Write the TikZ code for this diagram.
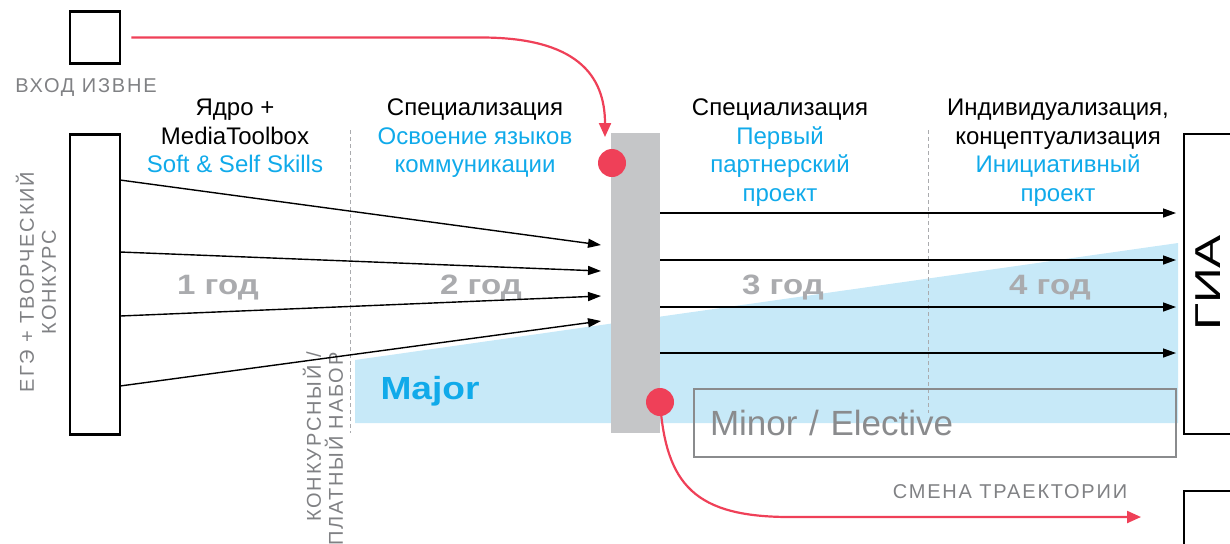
\documentclass[tikz,border=0pt]{standalone}
\usepackage{fontspec}
\setmainfont{Liberation Sans}
\newfontfamily\spacedfont{Liberation Sans}[LetterSpace=9]
\usetikzlibrary{positioning}
\usetikzlibrary{arrows.meta}

\definecolor{accentblue}{RGB}{16,170,234}
\definecolor{majorfill}{RGB}{199,233,248}
\definecolor{bargray}{RGB}{197,198,200}
\definecolor{accentred}{RGB}{239,64,88}
\definecolor{notegray}{RGB}{128,129,132}
\definecolor{yeargray}{RGB}{170,171,174}
\definecolor{minorgray}{RGB}{138,139,141}

\newcommand{\stretchx}[2]{\scalebox{#1}[1]{#2}}

\begin{document}
\begin{tikzpicture}[x=0.5pt, y=-0.5pt,
    box/.style = {draw, line width=1.3pt, inner sep=0pt},
    bar/.style = {fill=bargray, inner sep=0pt},
    dot/.style = {circle, fill=accentred, inner sep=0pt, minimum size=14pt},
    head/.style = {align=center, anchor=north, inner sep=0pt, font=\fontsize{12}{14.3}\selectfont},
    year/.style = {anchor=base, inner sep=0pt, text=yeargray, font=\fontsize{14}{16}\selectfont\bfseries},
    note/.style = {inner sep=0pt, text=notegray, font=\spacedfont\fontsize{10}{11}\selectfont},
    minorbox/.style = {draw=minorgray, line width=1pt, text=minorgray, minimum width=241pt, minimum height=34pt,
        text width=225pt, inner xsep=8pt, inner ysep=0pt, align=left, font=\fontsize{17.5}{20}\selectfont},
    divider/.style = {draw=yeargray, line width=0.5pt, dash pattern=on 2pt off 1.5pt},
    arr/.style = {line width=0.7pt, -{Triangle[length=6.5pt,width=4.5pt]}},
    redarr/.style = {draw=accentred, line width=1.1pt, -{Triangle[length=7pt,width=6pt]}}]
    \useasboundingbox (0,0) rectangle (1230,543);
    \clip (0,0) rectangle (1230,543);

    % major track and year borders
    \fill[majorfill] (355,360) -- (1178,243) -- (1178,423) -- (355,423) -- cycle;
    \draw[divider] (350,130) -- (350,433);
    \draw[divider] (928,130) -- (928,413);

    % boxes
    \node[box, minimum width=25pt, minimum height=26pt] (inbox) at (95,37.5) {};
    \node[box, minimum width=25pt, minimum height=150pt] (ege) at (95,284.5) {};
    \node[bar, minimum width=24.5pt, minimum height=150pt] (hub) at (635.5,283) {};
    \node[box, minimum width=35pt, minimum height=150pt] (giabox) at (1219,284) {};
    \node[box, minimum width=35pt, minimum height=34pt] (exitbox) at (1219,525) {};
    \node[minorbox] (minor) at (935,423) {Minor / Elective};

    % labels
    \node[note, anchor=base] (inlabel) at (86,92) {ВХОД ИЗВНЕ};
    \node[note, rotate=90, align=center] (egelabel) at (36,282) {ЕГЭ + ТВОРЧЕСКИЙ\\КОНКУРС};
    \node[note, rotate=90, align=right, anchor=east] (poollabel) at (323,352) {КОНКУРСНЫЙ /\\ПЛАТНЫЙ НАБОР};
    \node[note, anchor=base] (exitlabel) at (1010,498) {СМЕНА ТРАЕКТОРИИ};
    \node[rotate=90, inner sep=0pt, font=\fontsize{18}{20}\selectfont] (gia) at (1208,283) {\stretchx{1.38}{ГИА}};

    \node[head] (core) at (235,98.5) {Ядро +\\MediaToolbox\\\textcolor{accentblue}{Soft \& Self Skills}};
    \node[head] (lang) at (475,98.5) {Специализация\\\textcolor{accentblue}{Освоение языков}\\\textcolor{accentblue}{коммуникации}};
    \node[head] (partner) at (780,98.5) {Специализация\\\textcolor{accentblue}{Первый}\\\textcolor{accentblue}{партнерский}\\\textcolor{accentblue}{проект}};
    \node[head] (own) at (1058,98.5) {Индивидуализация,\\концептуализация\\\textcolor{accentblue}{Инициативный}\\\textcolor{accentblue}{проект}};

    \node[year] (y1) at (218,294) {\stretchx{1.18}{1 год}};
    \node[year] (y2) at (481,294) {\stretchx{1.18}{2 год}};
    \node[year] (y3) at (783,294) {\stretchx{1.18}{3 год}};
    \node[year] (y4) at (1050,294) {\stretchx{1.18}{4 год}};
    \node[anchor=base, inner sep=0pt, text=accentblue, font=\fontsize{16}{18}\selectfont\bfseries] (major) at (430,399) {\stretchx{1.16}{Major}};

    % entry arrows
    \coordinate (s1) at (120,180);
    \coordinate (s2) at (120,252);
    \coordinate (s3) at (120,316);
    \coordinate (s4) at (120,386);
    \coordinate (t1) at (601,245);
    \coordinate (t2) at (601,271);
    \coordinate (t3) at (601,296);
    \coordinate (t4) at (601,321);
    \draw[arr] (s1) -- (t1);
    \draw[arr] (s2) -- (t2);
    \draw[arr] (s3) -- (t3);
    \draw[arr] (s4) -- (t4);

    % arrows to the final exam
    \coordinate (g1) at (1176,213);
    \coordinate (g2) at (1176,260);
    \coordinate (g3) at (1176,307);
    \coordinate (g4) at (1176,353);
    \draw[arr] (hub.east |- g1) -- (g1);
    \draw[arr] (hub.east |- g2) -- (g2);
    \draw[arr] (hub.east |- g3) -- (g3);
    \draw[arr] (hub.east |- g4) -- (g4);

    % joining and leaving
    \coordinate (jointip) at (605,137);
    \coordinate (exittip) at (1141,517);
    \draw[redarr] ([xshift=5pt]inbox.east) -- ++(350,0) .. controls ++(95,0) and (605,75) .. (jointip);
    \draw[redarr] (660,402) .. controls (666,485) and (695,517) .. (790,517) -- (exittip);
    \node[dot] (topdot) at (612,163) {};
    \node[dot] (botdot) at (660,402) {};
\end{tikzpicture}
\end{document}
